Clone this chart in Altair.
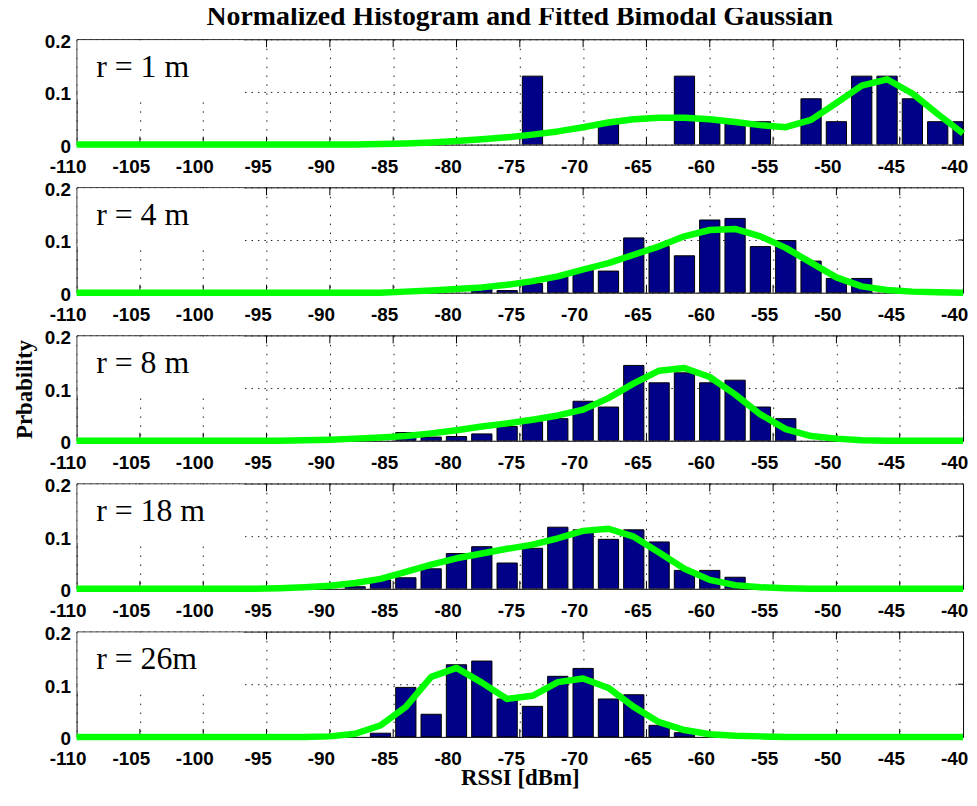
import altair as alt
import pandas as pd

# ---------------- data ----------------
X_TICKS = [-110, -105, -100, -95, -90, -85, -80, -75, -70, -65, -60, -55, -50, -45, -40]
Y_TICKS = [0, 0.1, 0.2]

PANEL_LABELS = ["r = 1 m", "r = 4 m", "r = 8 m", "r = 18 m", "r = 26m"]

FIT_X = [-110, -108, -106, -104, -102, -100, -98, -96, -94, -92, -90, -88,
         -86, -84, -82, -80, -78, -76, -74, -72, -70, -68, -66, -64,
         -62, -60, -58, -56, -54, -52, -50, -48, -46, -44, -42, -40]

# histogram bins (centres) and normalised heights
BIN_X_1 = [-74, -68, -62, -60, -58, -56, -52, -50, -48, -46, -44, -42, -40]
BIN_P_1 = [0.130, 0.0435, 0.130, 0.0435, 0.0435, 0.0435, 0.087, 0.0435, 0.130, 0.130, 0.087, 0.0435, 0.0435]

BIN_X_2 = [-78, -76, -74, -72, -70, -68, -66, -64, -62, -60, -58, -56, -54, -52, -50, -48]
BIN_P_2 = [0.008, 0.004, 0.0175, 0.030, 0.0425, 0.041, 0.104, 0.0875, 0.070, 0.138, 0.141, 0.0875, 0.099, 0.060, 0.027, 0.027]

BIN_X_3 = [-84, -82, -80, -78, -76, -74, -72, -70, -68, -66, -64, -62, -60, -58, -56, -54]
BIN_P_3 = [0.0155, 0.007, 0.008, 0.013, 0.027, 0.036, 0.042, 0.075, 0.064, 0.143, 0.110, 0.129, 0.110, 0.115, 0.064, 0.042]

BIN_X_4 = [-88, -86, -84, -82, -80, -78, -76, -74, -72, -70, -68, -66, -64, -62, -60, -58]
BIN_P_4 = [0.004, 0.017, 0.021, 0.038, 0.067, 0.080, 0.049, 0.077, 0.117, 0.112, 0.094, 0.112, 0.089, 0.035, 0.035, 0.022]

BIN_X_5 = [-86, -84, -82, -80, -78, -76, -74, -72, -70, -68, -66, -64, -62]
BIN_P_5 = [0.007, 0.094, 0.043, 0.137, 0.144, 0.072, 0.058, 0.115, 0.130, 0.072, 0.080, 0.022, 0.008]

# fitted bimodal gaussian, read at FIT_X
FIT_P_1 = [0, 0, 0, 0, 0, 0, 0, 0, 0, 0, 0, 0,
           0.001, 0.002, 0.004, 0.007, 0.010, 0.014, 0.019, 0.025, 0.033, 0.042, 0.048, 0.051,
           0.051, 0.048, 0.043, 0.037, 0.033, 0.047, 0.079, 0.112, 0.124, 0.097, 0.058, 0.021]
FIT_P_2 = [0, 0, 0, 0, 0, 0, 0, 0, 0, 0, 0, 0, 0,
           0.002, 0.004, 0.007, 0.010, 0.015, 0.022, 0.031, 0.044, 0.056, 0.072, 0.088,
           0.107, 0.119, 0.121, 0.107, 0.085, 0.057, 0.029, 0.012, 0.005, 0.002, 0.001, 0]
FIT_P_3 = [0, 0, 0, 0, 0, 0, 0, 0, 0,
           0.001, 0.002, 0.004, 0.006, 0.009, 0.014, 0.020, 0.027, 0.033, 0.040, 0.048, 0.059, 0.081,
           0.109, 0.133, 0.138, 0.121, 0.088, 0.050, 0.022, 0.009, 0.004, 0.001, 0, 0, 0, 0]
FIT_P_4 = [0, 0, 0, 0, 0, 0, 0, 0,
           0.001, 0.003, 0.006, 0.011, 0.019, 0.032, 0.046, 0.058, 0.067, 0.076, 0.084, 0.096,
           0.110, 0.114, 0.099, 0.069, 0.038, 0.017, 0.007, 0.003, 0.001,
           0, 0, 0, 0, 0, 0, 0]
FIT_P_5 = [0, 0, 0, 0, 0, 0, 0, 0, 0, 0,
           0.001, 0.006, 0.022, 0.057, 0.114, 0.131, 0.103, 0.072, 0.078, 0.104, 0.111, 0.093,
           0.057, 0.028, 0.013, 0.005, 0.002, 0.001,
           0, 0, 0, 0, 0, 0, 0, 0]

BINS_X = [BIN_X_1, BIN_X_2, BIN_X_3, BIN_X_4, BIN_X_5]
BINS_P = [BIN_P_1, BIN_P_2, BIN_P_3, BIN_P_4, BIN_P_5]
FITS_P = [FIT_P_1, FIT_P_2, FIT_P_3, FIT_P_4, FIT_P_5]

TITLE = "Normalized Histogram and Fitted Bimodal Gaussian"
Y_TITLE = "Prbability"
X_TITLE = "RSSI [dBm]"

# ---------------- style ----------------
W, H = 892, 106
SERIF = "Liberation Serif"
SANS = "Liberation Sans"
BAR_COLOR = "#000088"
LINE_COLOR = "#00ff00"
X_MIN, X_MAX = X_TICKS[0], X_TICKS[-1]


def panel(i):
    last = i == 4
    middle = i == 2
    xs = alt.Scale(domain=[X_MIN, X_MAX], nice=False, zero=False)
    ys = alt.Scale(domain=[Y_TICKS[0], Y_TICKS[-1]], nice=False)
    xaxis = alt.Axis(
        values=X_TICKS, labelExpr="'' + datum.value",
        labelFont=SANS, labelFontWeight="bold", labelFontSize=19, labelColor="black",
        labelPadding=13, labelOffset=-9, labelFlush=False, labelOverlap=False,
        ticks=False, tickSize=0, domain=False,
        grid=True, gridDash=[1.5, 7.5], gridColor="#222222", gridWidth=1,
        title=X_TITLE if last else None,
        **({"titleFont": SERIF, "titleFontWeight": "bold", "titleFontSize": 23,
            "titleColor": "black", "titleBaseline": "alphabetic",
            "titleX": W / 2, "titleY": 48} if last else {}),
    )
    yaxis = alt.Axis(
        values=Y_TICKS, labelExpr="'' + datum.value",
        labelFont=SANS, labelFontWeight="bold", labelFontSize=19, labelColor="black",
        labelPadding=6, labelOffset=2, labelOverlap=False, labelFlush=False,
        ticks=False, tickSize=0, domain=False,
        grid=True, gridDash=[1.5, 5], gridColor="#222222", gridWidth=1,
        title=Y_TITLE if middle else None,
        **({"titleFont": SERIF, "titleFontWeight": "bold", "titleFontSize": 23,
            "titleColor": "black", "titleBaseline": "alphabetic", "titleAngle": 270,
            "titleAlign": "center", "titleX": -45.3, "titleY": 54} if middle else {}),
    )
    X = alt.X("x:Q", scale=xs, axis=xaxis)
    Y = alt.Y("p:Q", scale=ys, axis=yaxis)

    bars_df = pd.DataFrame({"x": BINS_X[i], "p": BINS_P[i]})
    fit_df = pd.DataFrame({"x": FIT_X, "p": FITS_P[i]})
    xt_df = pd.DataFrame({"x": X_TICKS[1:-1]})
    yt_df = pd.DataFrame({"p": Y_TICKS[1:-1]})
    lab_df = pd.DataFrame({"label": [PANEL_LABELS[i]]})

    top_ticks = alt.Chart(xt_df).mark_rule(color="black", strokeWidth=1).encode(
        x=X, y=alt.value(0), y2=alt.value(8))
    bot_ticks = alt.Chart(xt_df).mark_rule(color="black", strokeWidth=1).encode(
        x=X, y=alt.value(H), y2=alt.value(H - 8))
    l_ticks = alt.Chart(yt_df).mark_rule(color="black", strokeWidth=1).encode(
        y=Y, x=alt.value(0), x2=alt.value(5))
    r_ticks = alt.Chart(yt_df).mark_rule(color="black", strokeWidth=1).encode(
        y=Y, x=alt.value(W), x2=alt.value(W - 5))

    bars = alt.Chart(bars_df).transform_calculate(
        x0=f"max(datum.x - 0.8, {X_MIN})", x1=f"min(datum.x + 0.8, {X_MAX})"
    ).mark_bar(color=BAR_COLOR, stroke="black", strokeWidth=1, clip=True).encode(
        x=alt.X("x0:Q", scale=xs, axis=xaxis), x2="x1:Q",
        y=alt.Y("p:Q", scale=ys, axis=yaxis, stack=None), y2=alt.datum(0))

    line = alt.Chart(fit_df).mark_line(
        color=LINE_COLOR, strokeWidth=6.5, strokeJoin="round", strokeCap="butt"
    ).encode(x=X, y=Y)

    box = alt.Chart(lab_df).mark_rect(color="white").encode(
        x=alt.value(1), x2=alt.value(168), y=alt.value(1), y2=alt.value(60))
    text = alt.Chart(lab_df).mark_text(
        align="left", baseline="alphabetic", font=SERIF, fontSize=32, color="black"
    ).encode(x=alt.value(19.7), y=alt.value(38), text="label:N")

    ch = alt.layer(top_ticks, bot_ticks, l_ticks, r_ticks, bars, line, box, text).properties(
        width=W, height=H)
    if i == 0:
        ch = ch.properties(title=alt.TitleParams(
            TITLE, font=SERIF, fontSize=28, fontWeight="bold", color="black",
            anchor="middle", frame="group", offset=1))
    return ch


chart = alt.vconcat(*[panel(i) for i in range(5)], spacing=43, bounds="flush").properties(
    padding={"left": 5, "top": -8, "right": 0, "bottom": 0},
    background="white",
).configure_view(stroke="black", strokeWidth=1)

chart.save("out.html", embed_options={"renderer": "svg", "actions": False})
